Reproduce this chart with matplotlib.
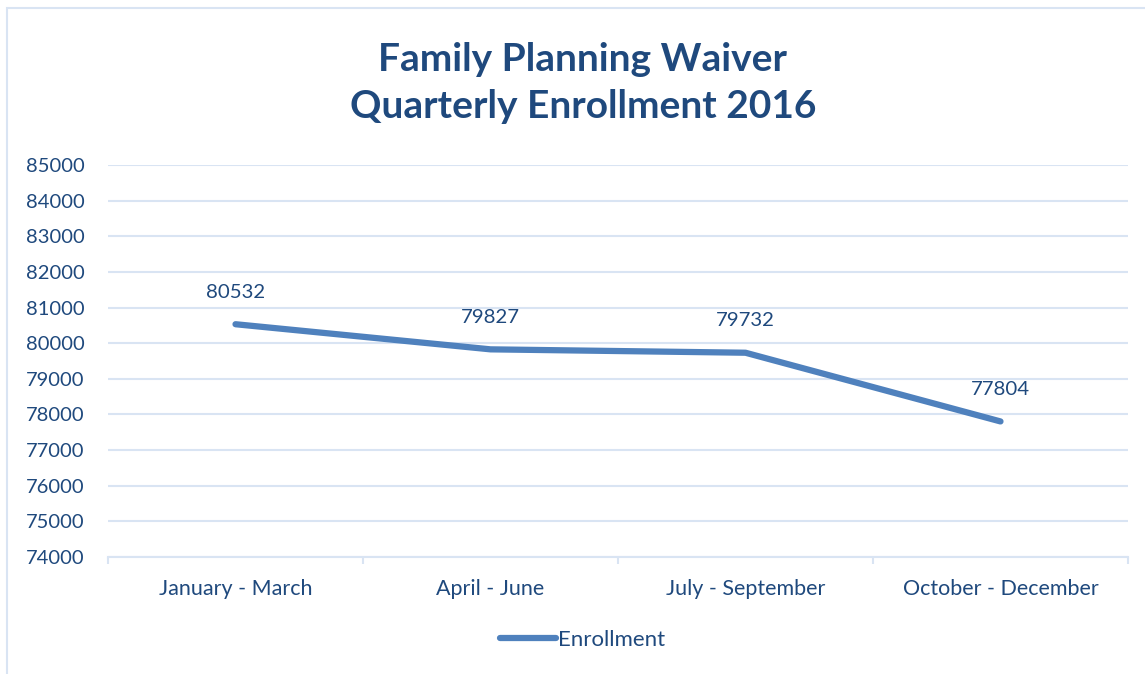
import numpy as np
import matplotlib.pyplot as plt
from matplotlib.patches import Rectangle

quarters = ['January - March', 'April - June', 'July - September', 'October - December']
enrollment = [80532, 79827, 79732, 77804]
y_ticks = list(range(74000, 86000, 1000))

text_color = '#1F497D'
line_color = '#4F81BD'
grid_color = '#D9E4F3'

plt.rcParams['font.family'] = ['Lato', 'DejaVu Sans']

fig = plt.figure(figsize=(11.45, 6.74), dpi=100)
ax = fig.add_axes([108 / 1145, 1 - 557 / 674, 1020 / 1145, 392 / 674])

x = np.arange(len(quarters))
ax.plot(x, enrollment, color=line_color, linewidth=4.5, solid_capstyle='round',
        label='Enrollment')

# value labels above each point
for xi, v in zip(x, enrollment):
    ax.annotate(str(v), (xi, v), xytext=(0, 23), textcoords='offset points',
                ha='center', va='center', fontsize=14.7, color=text_color)

ax.set_xlim(-0.5, len(quarters) - 0.5)
ax.set_ylim(74000, 85000)
ax.set_yticks(y_ticks)
ax.set_yticklabels([str(t) for t in y_ticks])
ax.set_xticks(x)
ax.set_xticklabels(quarters)
ax.set_xticks(np.arange(len(quarters) + 1) - 0.5, minor=True)

ax.grid(axis='y', color=grid_color, linewidth=1.5)
ax.set_axisbelow(True)
for side in ['top', 'right', 'left']:
    ax.spines[side].set_visible(False)
ax.spines['bottom'].set_color(grid_color)
ax.spines['bottom'].set_linewidth(1.5)

ax.tick_params(axis='y', length=0, pad=17, labelsize=14.5, labelcolor=text_color)
ax.tick_params(axis='x', which='major', length=0, pad=16, labelsize=15.5,
               labelcolor=text_color)
ax.tick_params(axis='x', which='minor', length=5, width=1.5, color=grid_color)

fig.text(0.509, 1 - 83 / 674, 'Family Planning Waiver\nQuarterly Enrollment 2016',
         ha='center', va='center', fontsize=28, fontweight='bold',
         color=text_color, linespacing=1.42)

fig.legend(loc='center', bbox_to_anchor=(0.509, 1 - 640 / 674), frameon=False,
           fontsize=16, labelcolor=text_color, handlelength=2.5, handletextpad=0.1)

# chart border
fig.patches.append(Rectangle((7 / 1145, -0.05), 1.1, 1.05 - 8 / 674,
                             transform=fig.transFigure, fill=False,
                             edgecolor=grid_color, linewidth=1.5))

fig.savefig('out.png', dpi=100)
